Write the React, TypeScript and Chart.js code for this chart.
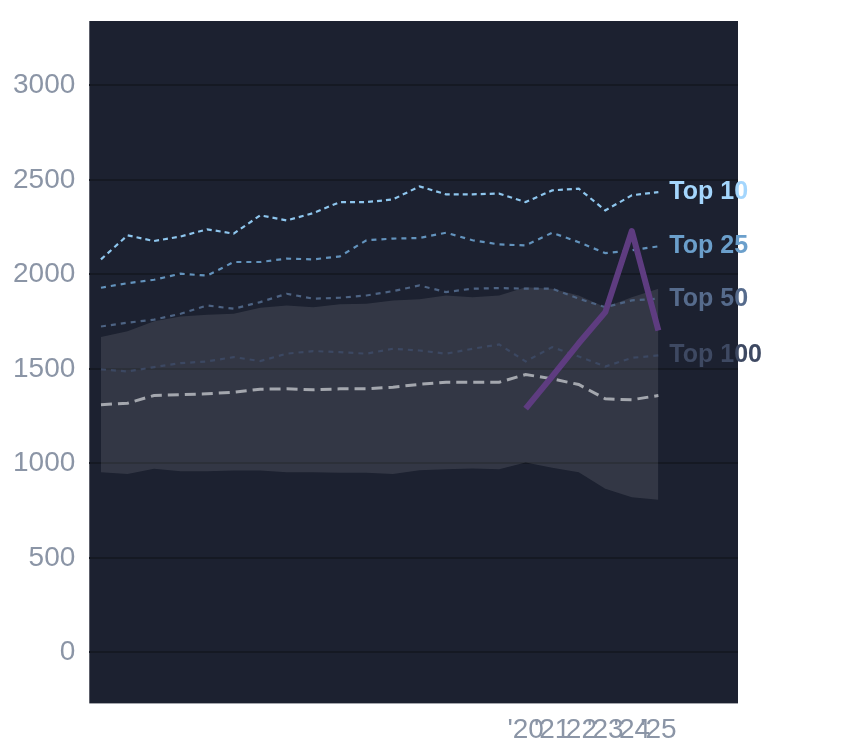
import { useEffect, useRef } from 'react';
import { Chart, registerables, Plugin } from 'chart.js';

Chart.register(...registerables);

const years = [2004, 2005, 2006, 2007, 2008, 2009, 2010, 2011, 2012, 2013, 2014, 2015, 2016, 2017, 2018, 2019, 2020, 2021, 2022, 2023, 2024, 2025];
const tickYears = [2020, 2021, 2022, 2023, 2024, 2025];
const yTicks = [0, 500, 1000, 1500, 2000, 2500, 3000];

const top10 = [2079, 2206, 2176, 2200, 2238, 2215, 2312, 2285, 2324, 2382, 2382, 2396, 2465, 2423, 2423, 2427, 2382, 2444, 2453, 2338, 2418, 2435];
const top25 = [1929, 1953, 1971, 2003, 1993, 2065, 2065, 2083, 2079, 2095, 2180, 2189, 2192, 2220, 2180, 2158, 2153, 2220, 2170, 2112, 2127, 2148];
const top50 = [1724, 1744, 1760, 1791, 1835, 1818, 1853, 1897, 1871, 1876, 1888, 1911, 1941, 1906, 1924, 1927, 1924, 1924, 1871, 1826, 1862, 1871];
const top100 = [1497, 1486, 1509, 1530, 1539, 1562, 1541, 1580, 1594, 1588, 1580, 1606, 1597, 1580, 1606, 1629, 1539, 1615, 1565, 1512, 1558, 1571];
const median = [1310, 1318, 1359, 1363, 1368, 1376, 1392, 1394, 1389, 1394, 1394, 1403, 1418, 1429, 1429, 1429, 1470, 1447, 1417, 1341, 1336, 1359];
const bandHigh = [1668, 1699, 1751, 1777, 1786, 1791, 1823, 1835, 1826, 1841, 1844, 1862, 1868, 1888, 1879, 1888, 1932, 1924, 1888, 1826, 1879, 1924];
const bandLow = [953, 944, 971, 958, 958, 962, 962, 953, 953, 950, 950, 944, 964, 969, 972, 969, 1004, 976, 953, 865, 821, 808];

const playerYears = [2020, 2021, 2022, 2023, 2024, 2025];
const player = [1289, 1460, 1635, 1800, 2229, 1703];

const toPoints = (xs: number[], ys: number[]) => xs.map((x, i) => ({ x, y: ys[i] }));

// dark plot background
const plotBg: Plugin = {
    id: 'plotBg',
    beforeDraw(chart) {
        const { ctx, chartArea } = chart;
        ctx.save();
        ctx.fillStyle = '#1c2130';
        ctx.fillRect(chartArea.left, chartArea.top, chartArea.right - chartArea.left, chartArea.bottom - chartArea.top);
        ctx.restore();
    },
};

// "Top N" labels at the end of each line
const endLabels: Plugin = {
    id: 'endLabels',
    afterDatasetsDraw(chart) {
        const { ctx } = chart;
        ctx.save();
        ctx.font = 'bold 25px "Liberation Sans", Arial, sans-serif';
        ctx.textBaseline = 'middle';
        ctx.textAlign = 'left';
        chart.data.datasets.forEach((ds: any, i) => {
            if (!ds.endLabel) return;
            const meta = chart.getDatasetMeta(i);
            const pt = meta.data[meta.data.length - 1];
            if (!pt) return;
            ctx.fillStyle = ds.endLabelColor;
            ctx.fillText(ds.endLabel, pt.x + 11, pt.y);
        });
        ctx.restore();
    },
};

// no extra space for overhanging tick labels
const noOverhang = (axis: any) => {
    axis.paddingTop = 0;
    axis.paddingBottom = 0;
    axis.paddingLeft = 0;
    axis.paddingRight = 0;
};

const App = () => {
    const canvasRef = useRef<HTMLCanvasElement>(null);

    useEffect(() => {
        if (!canvasRef.current) return;
        Chart.defaults.font.family = '"Liberation Sans", Arial, sans-serif';

        const dashed = (label: string, data: number[], color: string, dash: number[], width: number, labelColor?: string) => ({
            label,
            data: toPoints(years, data),
            borderColor: color,
            borderWidth: width,
            borderDash: dash,
            pointRadius: 0,
            tension: 0,
            fill: false,
            order: 2,
            endLabel: labelColor ? label : undefined,
            endLabelColor: labelColor,
        });

        const chart = new Chart(canvasRef.current, {
            type: 'line',
            data: {
                datasets: [
                    {
                        label: 'Selected',
                        data: toPoints(playerYears, player),
                        borderColor: '#5e3c80',
                        borderWidth: 6,
                        borderJoinStyle: 'round',
                        borderCapStyle: 'butt',
                        pointRadius: 0,
                        tension: 0,
                        fill: false,
                        order: 1,
                    },
                    dashed('Top 10', top10, '#8ec6ee', [5, 4], 2.2, '#a4d6fd'),
                    dashed('Top 25', top25, '#6393bd', [5, 5], 2.2, '#6b9fcb'),
                    dashed('Top 50', top50, '#4d6383', [5, 5], 2.2, '#566b8c'),
                    dashed('Top 100', top100, '#3c4862', [5, 5], 2.2, '#3e4962'),
                    dashed('Median', median, '#a4a7ae', [11, 6], 3),
                    {
                        label: 'Range low',
                        data: toPoints(years, bandLow),
                        borderWidth: 0,
                        borderColor: 'rgba(0,0,0,0)',
                        pointRadius: 0,
                        tension: 0,
                        fill: false,
                        order: 10,
                    },
                    {
                        label: 'Range high',
                        data: toPoints(years, bandHigh),
                        borderWidth: 0,
                        borderColor: 'rgba(0,0,0,0)',
                        backgroundColor: 'rgba(255,255,255,0.1)',
                        pointRadius: 0,
                        tension: 0,
                        fill: '-1',
                        order: 9,
                    },
                ] as any,
            },
            options: {
                animation: false,
                responsive: false,
                layout: { padding: { top: 21, right: 106, left: -1, bottom: -9 } },
                plugins: {
                    legend: { display: false },
                    tooltip: { enabled: false },
                },
                scales: {
                    x: {
                        type: 'linear',
                        min: 2003.56,
                        max: 2028,
                        grid: { display: false, drawTicks: false },
                        border: { display: false },
                        afterBuildTicks: (axis: any) => {
                            axis.ticks = tickYears.map((v) => ({ value: v }));
                        },
                        afterFit: noOverhang,
                        ticks: {
                            autoSkip: false,
                            maxRotation: 0,
                            padding: 10,
                            color: '#8b95a6',
                            font: { size: 28 },
                            callback: (v: any) => "'" + String(v).slice(2),
                        },
                    },
                    y: {
                        min: -270,
                        max: 3340,
                        grid: { color: '#151923', lineWidth: 2, drawTicks: false },
                        border: { display: false },
                        afterBuildTicks: (axis: any) => {
                            axis.ticks = yTicks.map((v) => ({ value: v }));
                        },
                        afterFit: noOverhang,
                        ticks: {
                            padding: 14,
                            color: '#8b95a6',
                            font: { size: 28 },
                            callback: (v: any) => String(v),
                        },
                    },
                },
            },
            plugins: [plotBg, endLabels],
        });

        return () => {
            chart.destroy();
        };
    }, []);

    return (
        <div style={{ position: 'absolute', left: 0, top: 0, width: 844, height: 748, background: '#fff' }}>
            <canvas ref={canvasRef} width="844" height="748"></canvas>
        </div>
    );
};

export default App;
